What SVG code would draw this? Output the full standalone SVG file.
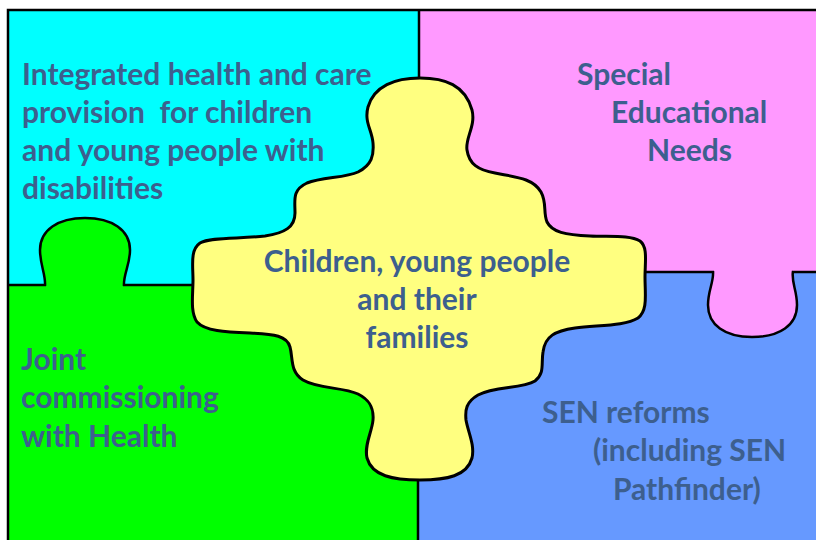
<svg xmlns="http://www.w3.org/2000/svg" width="816" height="540" viewBox="0 0 816 540">
<style>
.t{font-family:Lato,"Open Sans","Liberation Sans",sans-serif;font-weight:bold;font-size:30px;fill:#3D5F8E;white-space:pre}
.ln{stroke:#000;stroke-width:2.5;fill:none}
.tab{stroke:#000;stroke-width:2.5}
</style>
<rect x="0" y="0" width="816" height="540" fill="#fff"/>
<g id="cyan">
<rect x="8" y="10" width="411" height="275" fill="#00FFFF"/>
<text class="t" x="22" y="85">Integrated health and care</text>
<text class="t" x="22" y="123">provision  for children</text>
<text class="t" x="22" y="161">and young people with</text>
<text class="t" x="22" y="199">disabilities</text>
</g>
<g id="pink">
<rect x="419" y="10" width="397" height="262" fill="#FF99FF"/>
<text class="t" x="577" y="85">Special</text>
<text class="t" x="611" y="123">Educational</text>
<text class="t" x="647" y="161">Needs</text>
</g>
<g id="green">
<rect x="8" y="285" width="411" height="255" fill="#00FF00"/>
<path class="tab" fill="#00FF00" d="M45,286 C46,275 40,265 40,250 C40,230 58,218 85,218 C112,218 130,230 130,250 C130,265 123,275 124,286"/>
<text class="t" x="21" y="370">Joint</text>
<text class="t" x="21" y="408">commissioning</text>
<text class="t" x="21" y="447">with Health</text>
</g>
<g id="blue">
<rect x="419" y="272" width="397" height="268" fill="#6699FF"/>
<path class="tab" fill="#FF99FF" d="M713,271 C714,282 708,290 708,305 C708,325 725,337 752,337 C780,337 797,325 797,305 C797,290 791,282 793,271"/>
<text class="t" x="542" y="423">SEN reforms</text>
<text class="t" x="593" y="461">(including SEN</text>
<text class="t" x="613" y="500">Pathfinder)</text>
</g>
<g id="frame">
<path class="ln" d="M8,541 L8,10 L817,10"/>
<path class="ln" d="M419,10 L419,100 M418,460 L418,541"/>
<path class="ln" d="M8,285 L46,285 M123,285 L200,285"/>
<path class="ln" d="M630,272 L714,272 M792,272 L817,272"/>
</g>
<g id="center">
<path fill="#FFFF80" stroke="#000" stroke-width="3" d="M420,78 C445,78 465,85 472,110 C476,126 465,138 467,150 C469,164 478,170 495,173 C515,177 533,178 541,192 C547,203 543,212 547,222 C552,232 565,235 590,236 C610,237 630,235 640,241 C648,247 645,262 645,277 C645,295 648,310 638,318 C625,326 600,325 575,328 C555,331 545,336 543,352 C541,364 545,373 535,381 C522,389 495,386 478,395 C466,402 465,410 466,420 C468,432 475,445 472,458 C467,476 447,480 420,480 C393,480 372,476 367,458 C364,445 372,432 373,420 C374,408 370,400 358,394 C343,387 318,389 303,380 C290,372 293,358 290,347 C287,336 275,334 250,333 C225,332 205,331 197,322 C190,312 193,295 193,280 C193,265 190,250 200,243 C210,237 240,239 265,236 C285,233 295,227 295,213 C295,200 292,190 307,183 C322,177 345,178 358,172 C372,165 374,155 373,143 C372,130 364,122 368,107 C374,86 395,78 420,78 Z"/>
<text class="t" x="417" y="272" text-anchor="middle">Children, young people</text>
<text class="t" x="417" y="310" text-anchor="middle">and their</text>
<text class="t" x="417" y="348" text-anchor="middle">families</text>
</g>
</svg>
